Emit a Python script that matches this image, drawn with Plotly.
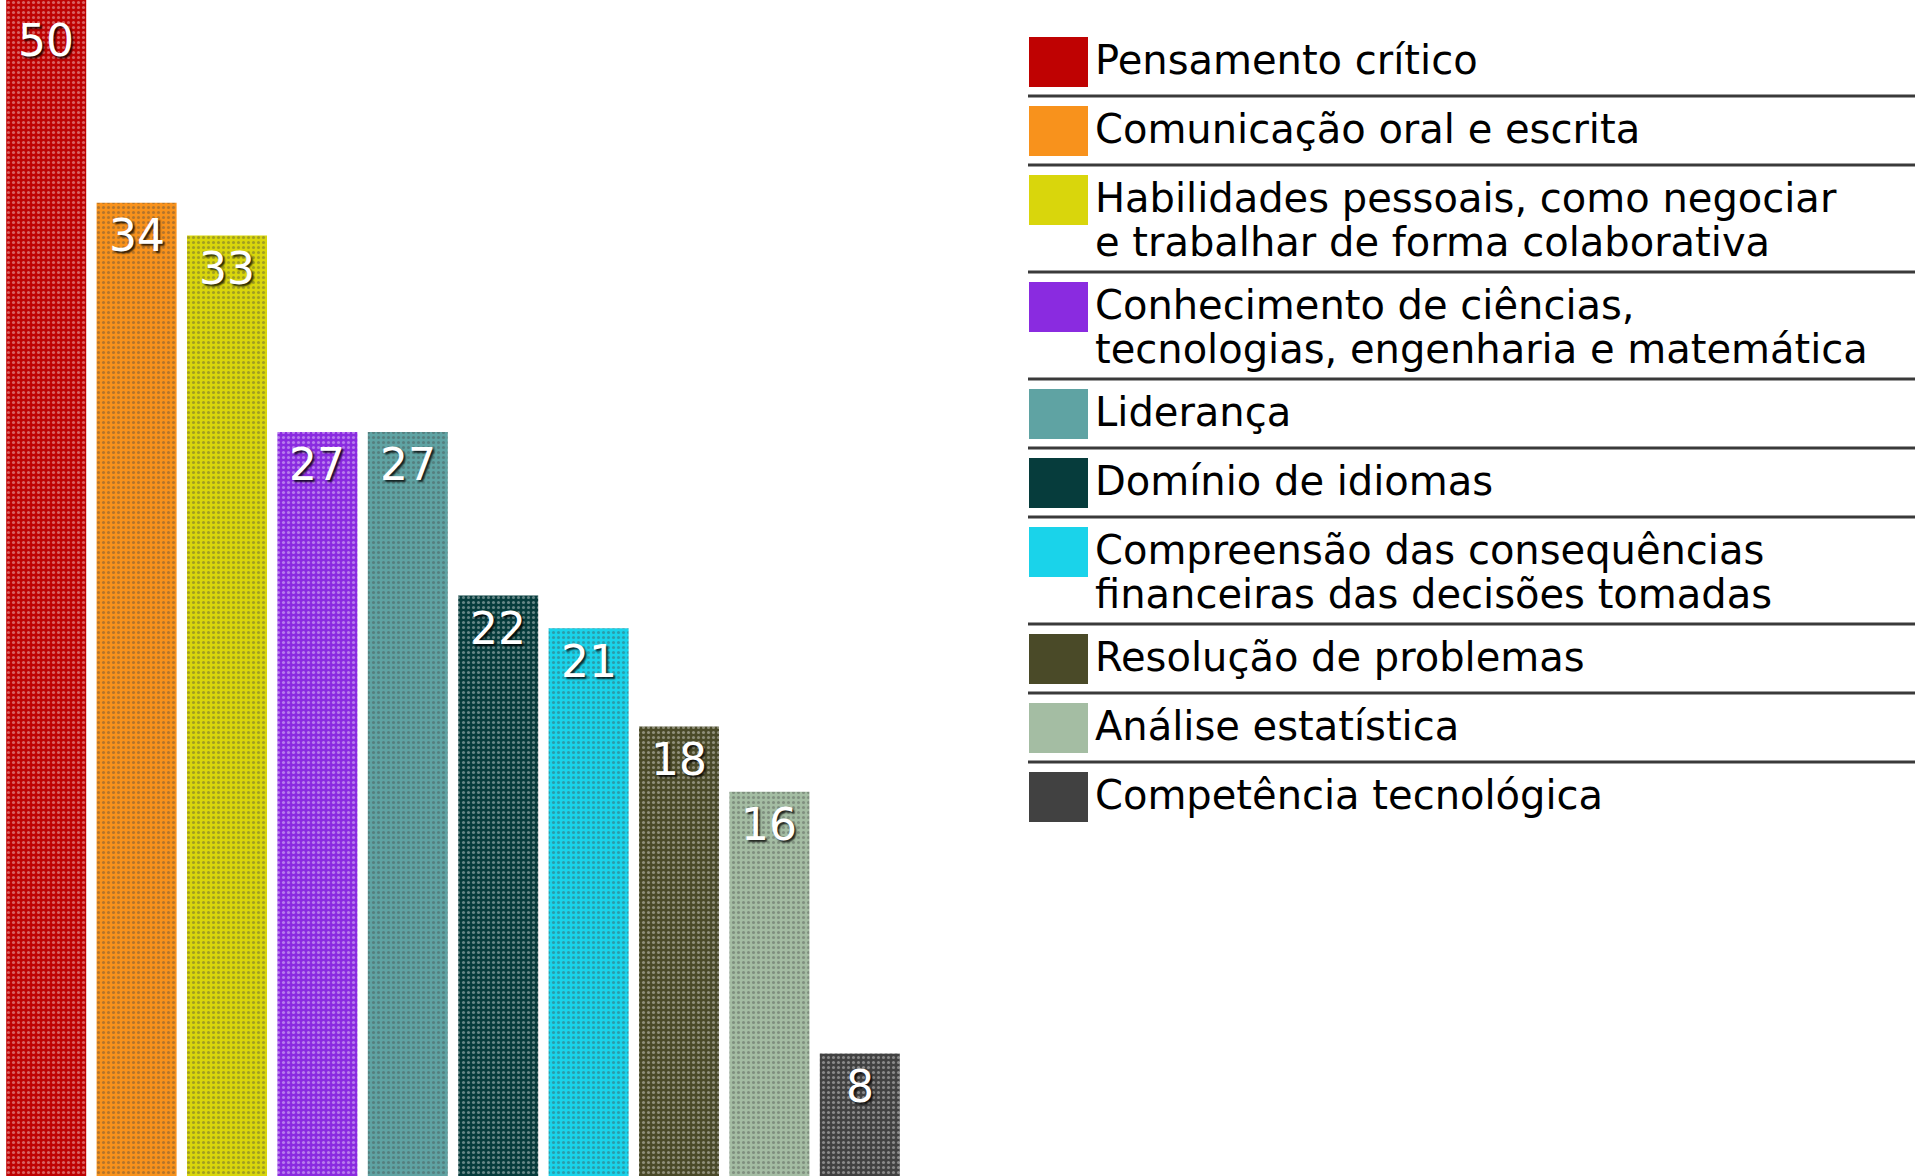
import plotly.graph_objects as go

# ---------------- data ----------------
categories = [
    "Pensamento crítico",
    "Comunicação oral e escrita",
    "Habilidades pessoais, como negociar\ne trabalhar de forma colaborativa",
    "Conhecimento de ciências,\ntecnologias, engenharia e matemática",
    "Liderança",
    "Domínio de idiomas",
    "Compreensão das consequências\nfinanceiras das decisões tomadas",
    "Resolução de problemas",
    "Análise estatística",
    "Competência tecnológica",
]
values = [50, 34, 33, 27, 27, 22, 21, 18, 16, 8]
colors = [
    "#BF0202", "#F8921C", "#D9D60C", "#8A2BE0", "#5FA3A3",
    "#063C3C", "#1AD3EA", "#4A4A28", "#A4BDA3", "#414141",
]

# ---------------- layout constants ----------------
W, H = 1915, 1176
Y_MIN, Y_MAX = 4.26, 40.2


def darker(hexc, f=0.75):
    h = hexc.lstrip("#")
    r, g, b = (int(h[i:i + 2], 16) for i in (0, 2, 4))
    return "#%02x%02x%02x" % (int(r * f), int(g * f), int(b * f))


fig = go.Figure()
fig.add_trace(go.Bar(
    x=categories,
    y=values,
    marker=dict(
        color=colors,
        line=dict(width=0),
        pattern=dict(shape=".", size=5, solidity=0.3,
                     fgcolor=[darker(c) for c in colors], fgopacity=0.38),
    ),
    hoverinfo="x+y",
    cliponaxis=True,
))

annotations = []
shapes = []

# value labels inside the bar tops
for cat, v in zip(categories, values):
    clipped = v > Y_MAX
    annotations.append(dict(
        x=cat, y=min(v, Y_MAX), xref="x", yref="y",
        text=str(v), showarrow=False,
        xanchor="center", yanchor="middle", yshift=-40 if clipped else -33,
        font=dict(family="DejaVu Sans", size=44, color="white",
                  shadow="2px 2px 2px rgba(0,0,0,0.8)"),
    ))

# custom legend on the right
SQ_X0, SQ_X1 = 1029, 1088
TXT_X = 1093
LINE_X0 = 1028
ROW_SINGLE, ROW_DOUBLE = 69, 107
LINE_STEP = 44
row_top = 27
for i, (cat, col) in enumerate(zip(categories, colors)):
    lines = cat.split("\n")
    row_h = ROW_SINGLE if len(lines) == 1 else ROW_DOUBLE
    shapes.append(dict(
        type="rect", xref="paper", yref="paper",
        x0=SQ_X0 / W, x1=SQ_X1 / W,
        y0=1 - (row_top + 10) / H, y1=1 - (row_top + 60) / H,
        fillcolor=col, line=dict(width=0),
    ))
    for j, ln in enumerate(lines):
        cy = row_top + 33 + j * LINE_STEP
        annotations.append(dict(
            x=TXT_X / W, y=1 - cy / H, xref="paper", yref="paper",
            text=ln, showarrow=False, xanchor="left", yanchor="middle",
            font=dict(family="DejaVu Sans", size=40, color="black"),
        ))
    row_top += row_h
    if i < len(categories) - 1:
        shapes.append(dict(
            type="line", xref="paper", yref="paper",
            x0=LINE_X0 / W, x1=1.0,
            y0=1 - row_top / H, y1=1 - row_top / H,
            line=dict(color="#3a3a3a", width=3),
        ))

fig.update_layout(
    width=W, height=H,
    margin=dict(l=0, r=0, t=0, b=0, pad=0),
    paper_bgcolor="white", plot_bgcolor="white",
    showlegend=False,
    bargap=0.115,
    xaxis=dict(domain=[1 / W, 905 / W], visible=False, fixedrange=True),
    yaxis=dict(range=[Y_MIN, Y_MAX], visible=False, fixedrange=True),
    annotations=annotations,
    shapes=shapes,
)

fig.write_html(
    "out.html",
    config={"displayModeBar": False},
    post_script="document.body.style.margin='0';document.body.style.overflow='hidden';",
)
